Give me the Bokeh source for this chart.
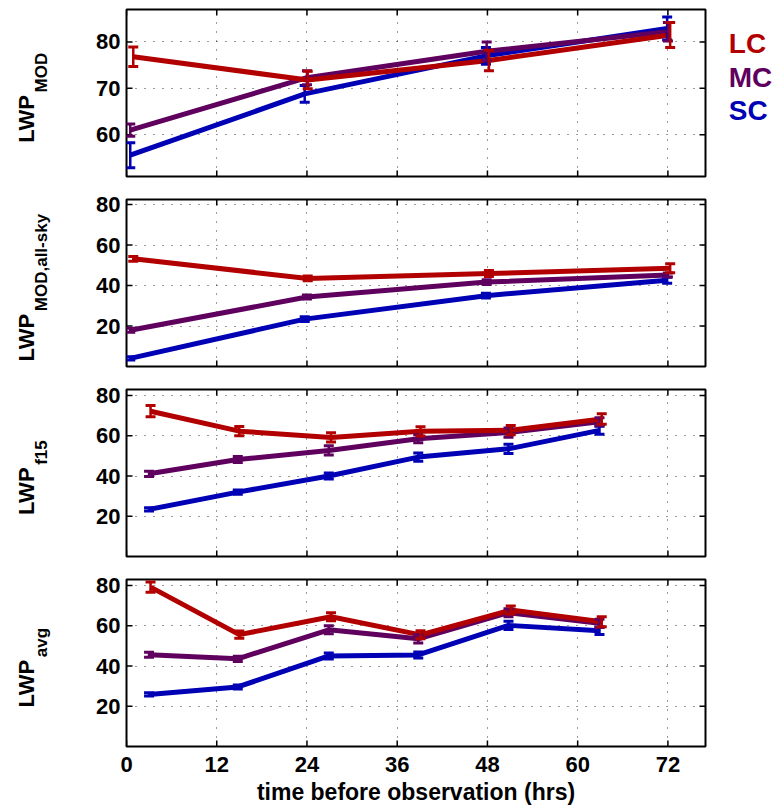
import math
from bokeh.plotting import figure
from bokeh.models import (Range1d, FixedTicker, ColumnDataSource, Whisker, TeeHead)
from bokeh.core.properties import value
from bokeh.layouts import column, row
from bokeh.embed import file_html
from bokeh.resources import INLINE

# ---------------- data ----------------
series_order = ["SC", "MC", "LC"]          # drawing order (LC on top)
legend_order = ["LC", "MC", "SC"]
colors = {"LC": "#B20000", "MC": "#5F005F", "SC": "#0000B4"}

x_ticks = [0, 12, 24, 36, 48, 60, 72]
x_tick_labels = ["0", "12", "24", "36", "48", "60", "72"]
x_label = "time before observation (hrs)"
y_label_main = "LWP"

# sample times (hrs) -- panels 1-2 and panels 3-4
hrs_a = {"LC": [0.9, 24.1, 48.2, 72.3],
         "MC": [0.5, 24.0, 47.9, 72.0],
         "SC": [0.5, 23.7, 47.8, 71.9]}
hrs_b = {"LC": [3.2, 15.0, 27.2, 39.1, 51.1, 63.2],
         "MC": [3.0, 14.8, 26.9, 38.8, 50.8, 62.9],
         "SC": [3.0, 14.8, 26.9, 38.8, 50.8, 62.9]}

# LWP_MOD
mod_val = {"LC": [76.8, 71.8, 76.0, 81.5],
           "MC": [61.0, 72.3, 78.0, 82.2],
           "SC": [55.6, 68.8, 77.0, 82.9]}
mod_err = {"LC": [2.1, 1.9, 2.2, 2.7],
           "MC": [1.3, 1.5, 2.0, 2.0],
           "SC": [2.7, 1.8, 1.8, 2.5]}
# LWP_MOD,all-sky
allsky_val = {"LC": [53.2, 43.5, 45.9, 48.5],
              "MC": [17.9, 34.3, 41.7, 45.2],
              "SC": [4.0, 23.4, 35.0, 42.6]}
allsky_err = {"LC": [1.2, 1.2, 1.5, 2.2],
              "MC": [1.0, 1.0, 1.2, 1.0],
              "SC": [0.8, 1.2, 1.2, 1.5]}
# LWP_f15
f15_val = {"LC": [72.2, 62.3, 59.2, 62.2, 62.8, 68.3],
           "MC": [41.1, 48.2, 52.7, 58.5, 61.6, 67.0],
           "SC": [23.4, 32.0, 40.0, 49.4, 53.5, 62.7]}
f15_err = {"LC": [2.8, 2.3, 2.3, 2.3, 2.3, 2.6],
           "MC": [1.3, 1.5, 2.3, 2.0, 2.3, 2.0],
           "SC": [0.8, 1.0, 1.5, 2.0, 2.3, 2.0]}
# LWP_avg
avg_val = {"LC": [79.2, 55.6, 64.5, 55.5, 67.8, 62.0],
           "MC": [45.6, 43.6, 58.0, 53.5, 66.5, 61.2],
           "SC": [25.9, 29.6, 45.0, 45.5, 60.2, 57.5]}
avg_err = {"LC": [2.5, 1.8, 2.0, 2.0, 2.0, 2.5],
           "MC": [1.2, 1.3, 2.0, 2.0, 2.0, 2.0],
           "SC": [0.8, 1.0, 1.5, 1.5, 2.0, 1.8]}

panels = [
    {"sub": "MOD", "yr": (51, 87), "yt": [60, 70, 80], "x": hrs_a, "v": mod_val, "e": mod_err},
    {"sub": "MOD,all-sky", "yr": (0, 82.5), "yt": [20, 40, 60, 80], "x": hrs_a, "v": allsky_val, "e": allsky_err},
    {"sub": "f15", "yr": (0, 83), "yt": [20, 40, 60, 80], "x": hrs_b, "v": f15_val, "e": f15_err},
    {"sub": "avg", "yr": (0, 83), "yt": [20, 40, 60, 80], "x": hrs_b, "v": avg_val, "e": avg_err},
]

# ---------------- styling / layout constants ----------------
FONT = "Liberation Sans"
FW, FH = 579, 167
TOP = 9            # border above each frame
GAP = 14           # border below frames 1-3
LAB_W = 60         # width of the y-label strip
LEFT = 66          # tick-label border of the main plots
RIGHT = 8
LEG_W = 60
XR = (0, 77)
SUB_SIZE = 17
# approximate Helvetica-Bold advance widths (em) for label layout
CW = {"L": .611, "W": .944, "P": .667, "M": .833, "O": .778, "D": .722, ",": .278,
      "a": .556, "l": .278, "-": .333, "s": .556, "k": .556, "y": .556, "f": .333,
      "1": .556, "5": .556, "v": .556, "g": .611}


def text_w(s, size):
    return sum(CW.get(c, .556) for c in s) * size


def text_fig(w, h):
    f = figure(title=None, frame_width=w, frame_height=h,
               x_range=Range1d(0, w), y_range=Range1d(0, h),
               x_axis_type=None, y_axis_type=None, min_border=0,
               output_backend="svg", toolbar_location=None,
               background_fill_color="white", border_fill_color="white")
    f.outline_line_color = None
    f.grid.visible = False
    return f


rows = []
n = len(panels)
for i, pan in enumerate(panels):
    last = i == n - 1
    y0, y1 = pan["yr"]
    p = figure(title=None, frame_width=FW, frame_height=FH,
               min_border_left=LEFT, min_border_right=RIGHT,
               min_border_top=TOP, min_border_bottom=0 if last else GAP,
               x_range=Range1d(*XR), y_range=Range1d(y0, y1),
               output_backend="svg", toolbar_location=None,
               background_fill_color="white", border_fill_color="white")
    p.outline_line_color = "black"
    p.outline_line_width = 2

    # axes: left labels on every panel, bottom labels on the last one only
    ya = p.yaxis[0]
    ya.ticker = FixedTicker(ticks=pan["yt"])
    ya.axis_line_color = None
    ya.major_tick_in = 0
    ya.major_tick_out = 0
    ya.minor_tick_line_color = None
    ya.major_label_standoff = 6
    ya.major_label_text_font = FONT
    ya.major_label_text_font_size = "22px"
    ya.major_label_text_font_style = "bold"
    ya.major_label_text_color = "black"
    xa = p.xaxis[0]
    if last:
        xa.ticker = FixedTicker(ticks=x_ticks)
        xa.major_label_overrides = {t: l for t, l in zip(x_ticks, x_tick_labels)}
        xa.axis_line_color = None
        xa.major_tick_in = 0
        xa.major_tick_out = 0
        xa.minor_tick_line_color = None
        xa.major_label_standoff = 10
        xa.major_label_text_font = FONT
        xa.major_label_text_font_size = "22px"
        xa.major_label_text_font_style = "bold"
        xa.major_label_text_color = "black"
        xa.axis_label = x_label
        xa.axis_label_text_font = FONT
        xa.axis_label_text_font_size = "23px"
        xa.axis_label_text_font_style = "bold"
        xa.axis_label_text_color = "black"
        xa.axis_label_standoff = 4
    else:
        xa.visible = False

    # dotted grid
    for g in (p.xgrid[0], p.ygrid[0]):
        g.grid_line_color = "#222222"
        g.grid_line_dash = "1 8"
        g.grid_line_width = 1
        g.grid_line_alpha = 0.9
    p.xgrid[0].ticker = FixedTicker(ticks=x_ticks)
    p.ygrid[0].ticker = FixedTicker(ticks=pan["yt"])

    # inward tick marks on all four sides of the box
    tk = dict(length=6, length_units="screen", line_color="black", line_width=1.5)
    p.ray(x=x_ticks, y=[y0] * len(x_ticks), angle=math.pi / 2, **tk)
    p.ray(x=x_ticks, y=[y1] * len(x_ticks), angle=-math.pi / 2, **tk)
    p.ray(x=[XR[0]] * len(pan["yt"]), y=pan["yt"], angle=0, **tk)
    p.ray(x=[XR[1]] * len(pan["yt"]), y=pan["yt"], angle=math.pi, **tk)

    for s in series_order:
        xs = pan["x"][s]
        vs = pan["v"][s]
        es = pan["e"][s]
        src = ColumnDataSource(dict(x=xs, y=vs,
                                    lo=[v - e for v, e in zip(vs, es)],
                                    hi=[v + e for v, e in zip(vs, es)]))
        c = colors[s]
        p.line("x", "y", source=src, line_color=c, line_width=5, line_join="round")
        w = Whisker(source=src, base="x", lower="lo", upper="hi",
                    line_color=c, line_width=2.5, level="glyph",
                    upper_head=TeeHead(size=10, line_color=c, line_width=3),
                    lower_head=TeeHead(size=10, line_color=c, line_width=3))
        p.add_layout(w)

    # y-axis label strip: "LWP" with subscript, rotated, centred on the frame
    fig_h = TOP + FH + (0 if last else GAP)
    lab = text_fig(LAB_W, fig_h)
    frame_bottom = fig_h - TOP - FH
    main_w = text_w(y_label_main, 22)
    sub_w = text_w(pan["sub"], SUB_SIZE)
    start = frame_bottom + FH / 2 - (main_w + 2 + sub_w) / 2 + 4
    # centre of each text box (baseline at x=33.3 / 46.5, box centre ~0.35em above it)
    lab.text(x=[33.3 - 0.35 * 22], y=[start + main_w / 2], text=[y_label_main],
             angle=math.pi / 2, text_align="center", text_baseline="middle",
             text_font=value(FONT), text_font_size="22px", text_font_style="bold",
             text_color="black")
    lab.text(x=[46.5 - 0.35 * SUB_SIZE], y=[start + main_w + 2 + sub_w / 2], text=[pan["sub"]],
             angle=math.pi / 2, text_align="center", text_baseline="middle",
             text_font=value(FONT), text_font_size=f"{SUB_SIZE}px", text_font_style="bold",
             text_color="black")

    children = [lab, p]
    if i == 0:
        leg = text_fig(LEG_W, fig_h)
        leg.text(x=[15.3] * len(legend_order),
                 y=[fig_h - 34.4 - 33.1 * k for k in range(len(legend_order))],
                 text=legend_order, text_align="left", text_baseline="middle",
                 text_font=value(FONT), text_font_size="28px", text_font_style="bold",
                 text_color=[colors[s] for s in legend_order])
        children.append(leg)
    rows.append(row(*children, spacing=0))

layout = column(*rows, spacing=0)
open("out.html", "w").write(file_html(layout, INLINE))
